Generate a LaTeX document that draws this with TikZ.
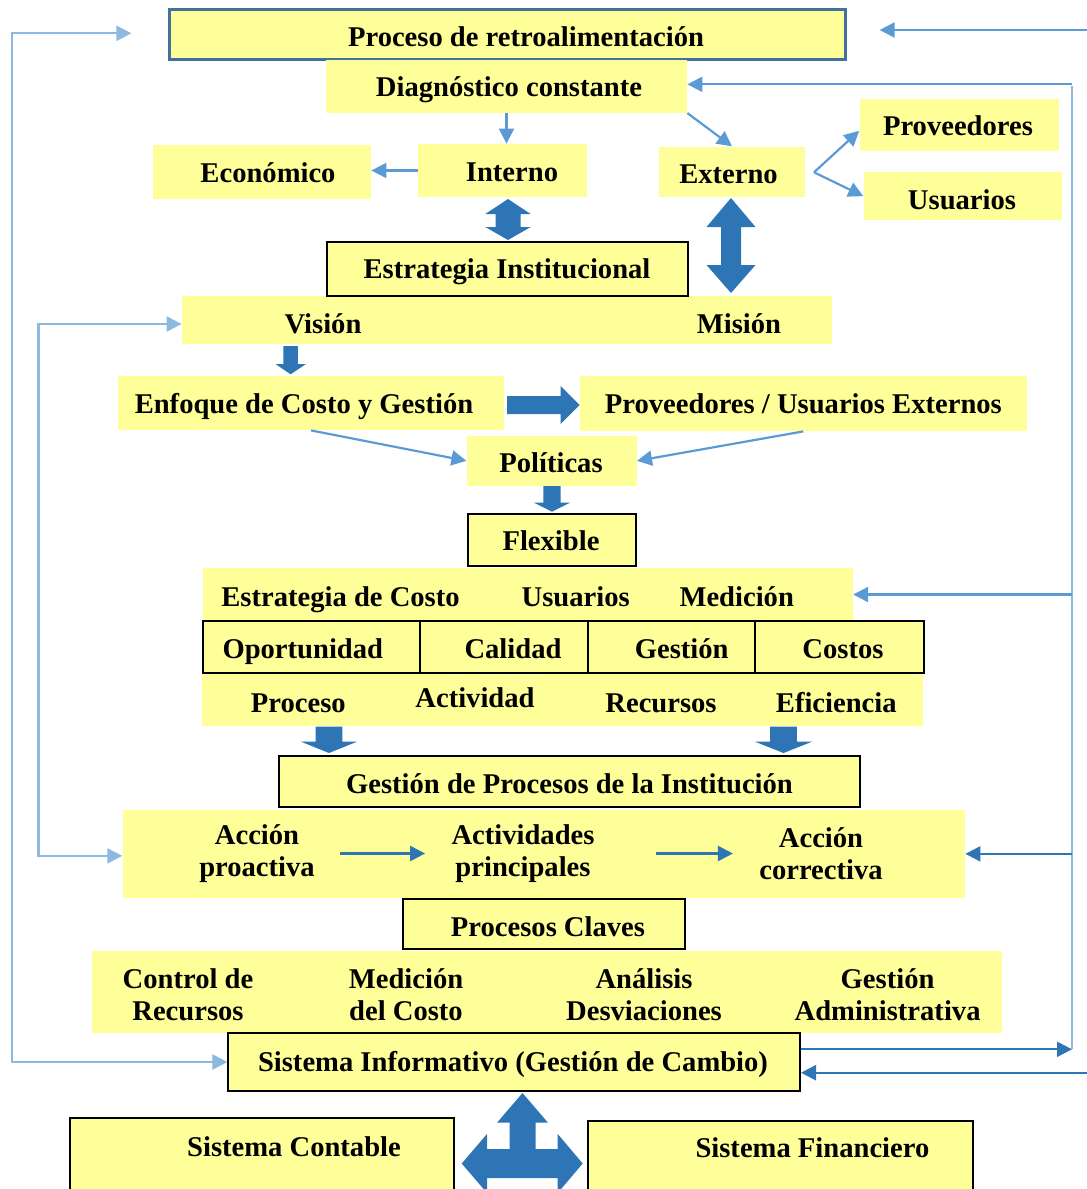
\documentclass[tikz,border=0pt]{standalone}
\usepackage{fontspec}
\setmainfont{Liberation Serif}
\usetikzlibrary{arrows.meta,fit}

\definecolor{boxyellow}{HTML}{FFFF99}
\definecolor{linkblue}{HTML}{5B9BD5}
\definecolor{deepblue}{HTML}{2E75B6}
\definecolor{paleblue}{HTML}{8DB8E2}
\definecolor{framegray}{HTML}{41719C}

\newcommand{\mapfont}{\bfseries\fontsize{14.3}{16}\selectfont}

\begin{document}
\begin{tikzpicture}[x=0.5pt,y=-0.5pt,every node/.style={font=\mapfont},
    >={Triangle[length=7.5pt,width=7.5pt]},
    fillbox/.style={fill=boxyellow,inner sep=0pt},
    framebox/.style={fillbox,draw=black,line width=1pt},
    txt/.style={inner sep=0pt,text height=9.6pt,text depth=0pt},
    txttwo/.style={inner sep=0pt,align=center},
    link/.style={draw=linkblue,line width=1.1pt},
    linkdeep/.style={draw=deepblue,line width=1.1pt},
    fbline/.style={draw=paleblue,line width=1.1pt},
    blk/.style={fill=deepblue}]
    \useasboundingbox (0,0) rectangle (1087,1189);
    % top part
    \node[fillbox,draw=framegray,line width=1.5pt,fit={(169,9.5) (845,59)}] (retro) {};
    \node[txt] (retrotxt) at (526,37) {Proceso de retroalimentación};
    \node[fillbox,fit={(326,60) (687,112.7)}] (diag) {};
    \node[txt] (diagtxt) at (509,87) {Diagnóstico constante};
    \node[fillbox,fit={(153,145) (371,199)}] (econ) {};
    \node[txt] (econtxt) at (268,173) {Económico};
    \node[fillbox,fit={(418,144) (587,197)}] (interno) {};
    \node[txt] (internotxt) at (512,172) {Interno};
    \node[fillbox,fit={(659,146.7) (805,197.3)}] (externo) {};
    \node[txt] (externotxt) at (728.5,174) {Externo};
    \node[fillbox,fit={(859.6,99) (1059,150.7)}] (prov) {};
    \node[txt] (provtxt) at (958,126) {Proveedores};
    \node[fillbox,fit={(863.7,172.3) (1061.8,220)}] (usu) {};
    \node[txt] (usutxt) at (962,200) {Usuarios};
    % strategy
    \node[fillbox,fit={(182,296) (832,344)}] (vm) {};
    \node[framebox,fit={(326.7,241.7) (687.8,296)}] (estinst) {};
    \node[txt] (estinsttxt) at (507,269) {Estrategia Institucional};
    \node[txt] (vision) at (323,324) {Visión};
    \node[txt] (mision) at (739,324) {Misión};
    \node[fillbox,fit={(118,376) (504,430)}] (enfoque) {};
    \node[txt] (enfoquetxt) at (304,404) {Enfoque de Costo y Gestión};
    \node[fillbox,fit={(579.6,375.7) (1027,431)}] (pue) {};
    \node[txt] (puetxt) at (803.4,404) {Proveedores / Usuarios Externos};
    \node[fillbox,fit={(466.8,436) (636.6,485.7)}] (pol) {};
    \node[txt] (poltxt) at (551,463) {Políticas};
    \node[framebox,fit={(468.4,514) (635.6,566)}] (flex) {};
    \node[txt] (flextxt) at (551,541) {Flexible};
    % grid of criteria
    \node[fillbox,fit={(203.3,568) (852.8,621)}] (costrow) {};
    \node[fillbox,fit={(201.8,672.7) (922.6,725.7)}] (procrow) {};
    \node[txt] (estcosto) at (340.5,596.5) {Estrategia de Costo};
    \node[txt] (usuarios) at (575.7,596.5) {Usuarios};
    \node[txt] (medicion) at (736.7,596.5) {Medición};
    \node[framebox,fit={(203.3,621) (419.5,672.7)}] (oport) {};
    \node[framebox,fit={(419.5,621) (587.7,672.7)}] (calidad) {};
    \node[framebox,fit={(587.7,621) (755.4,672.7)}] (gestion) {};
    \node[framebox,fit={(755.4,621) (924,672.7)}] (costos) {};
    \node[txt] (oporttxt) at (302.8,649) {Oportunidad};
    \node[txt] (calidadtxt) at (513,649) {Calidad};
    \node[txt] (gestiontxt) at (681.7,649) {Gestión};
    \node[txt] (costostxt) at (843,649) {Costos};
    \node[txt] (proceso) at (298.3,702.7) {Proceso};
    \node[txt] (actividad) at (475,698.3) {Actividad};
    \node[txt] (recursos) at (661,703.3) {Recursos};
    \node[txt] (eficiencia) at (836.3,702.7) {Eficiencia};
    % process management
    \node[framebox,fit={(279.4,756) (860,807)}] (gproc) {};
    \node[txt] (gproctxt) at (569.5,783.5) {Gestión de Procesos de la Institución};
    \node[fillbox,fit={(122.7,810) (965,897.7)}] (acc) {};
    \node[txttwo] (proact) at (257,853.5) {Acción\\proactiva};
    \node[txttwo] (activ) at (523,853.5) {Actividades\\principales};
    \node[txttwo] (correct) at (821,853.5) {Acción\\correctiva};
    \node[framebox,fit={(403.2,899) (685,949)}] (claves) {};
    \node[txt] (clavestxt) at (548,927) {Procesos Claves};
    \node[fillbox,fit={(92.1,951) (1002.3,1033)}] (keyrow) {};
    \node[txttwo] (control) at (188,994.5) {Control de\\Recursos};
    \node[txttwo] (medcosto) at (406,994.5) {Medición\\del Costo};
    \node[txttwo] (analisis) at (644,994.5) {Análisis\\Desviaciones};
    \node[txttwo] (gadmin) at (887.6,994.5) {Gestión\\Administrativa};
    % information systems
    \node[framebox,fit={(228.4,1033.3) (800,1090.7)}] (si) {};
    \node[txt] (sitxt) at (513,1061.5) {Sistema Informativo (Gestión de Cambio)};
    \node[framebox,fit={(69.5,1118.3) (454.3,1200)}] (contable) {};
    \node[txt] (contabletxt) at (294,1146.7) {Sistema Contable};
    \node[framebox,fit={(587.5,1121) (972.6,1200)}] (finan) {};
    \node[txt] (finantxt) at (812.4,1148.3) {Sistema Financiero};
    % block arrows
    \fill[blk] (508,199) -- (530.7,214) -- (520.5,214) -- (520.5,227) -- (530.7,227) -- (508,240)
        -- (485.3,227) -- (495.5,227) -- (495.5,214) -- (485.3,214) -- cycle;
    \fill[blk] (731,198) -- (755.5,227) -- (741,227) -- (741,265) -- (755.5,265) -- (731,293)
        -- (706.5,265) -- (721,265) -- (721,227) -- (706.5,227) -- cycle;
    \fill[blk] (283.3,346) -- (297.9,346) -- (297.9,364) -- (306,364) -- (290.6,374.3)
        -- (275.5,364) -- (283.3,364) -- cycle;
    \fill[blk] (507,396) -- (560.6,396) -- (560.6,386) -- (579.6,405) -- (560.6,424)
        -- (560.6,414) -- (507,414) -- cycle;
    \fill[blk] (543.4,486) -- (560.6,486) -- (560.6,502.7) -- (570,502.7) -- (552,511.7)
        -- (534,502.7) -- (543.4,502.7) -- cycle;
    \fill[blk] (315.7,726.7) -- (342.4,726.7) -- (342.4,741.7) -- (357,741.7) -- (329,753)
        -- (301,741.7) -- (315.7,741.7) -- cycle;
    \fill[blk] (770.2,726.7) -- (796.9,726.7) -- (796.9,741.7) -- (812,741.7) -- (783.5,753)
        -- (755,741.7) -- (770.2,741.7) -- cycle;
    \fill[blk] (522.5,1093) -- (548,1122.7) -- (535.5,1122.7) -- (535.5,1149) -- (557.7,1149)
        -- (557.7,1134) -- (582.7,1163.5) -- (557.7,1193) -- (557.7,1178) -- (487,1178)
        -- (487,1193) -- (461.7,1163.5) -- (487,1134) -- (487,1149) -- (509.5,1149)
        -- (509.5,1122.7) -- (497,1122.7) -- cycle;
    % thin connectors
    \draw[link,->] (diag.south) -- (diag.south |- interno.north);
    \draw[link,->] (diag.south east) -- (externo.north);
    \draw[link,->] (interno.west) -- (interno.west -| econ.east);
    \coordinate (split) at (814,172.3);
    \draw[link,->] (split) -- ([yshift=-3pt]prov.west);
    \draw[link,->] (split) -- (usu.west);
    \draw[link,->] (enfoque.south) -- (pol.west);
    \draw[link,->] (pue.south) -- (pol.east);
    \draw[linkdeep,->,shorten <=12.5pt,shorten >=13pt] (proact) -- (activ);
    \draw[linkdeep,->,shorten <=30.5pt,shorten >=13pt] (activ) -- (correct);
    % feedback loops, left
    \coordinate (fbtop) at (131.4,33.3);
    \coordinate (lout) at (12,33.3);
    \draw[fbline,<->] (fbtop) -- (lout) |- (si.west);
    \coordinate (lin) at (38.5,600);
    \draw[fbline,<->] ([yshift=-2pt]vm.west) -| (lin) |- ([yshift=-1pt]acc.west);
    % feedback loops, right
    \coordinate (rtop) at (1087,30);
    \coordinate (rtopend) at (879.6,30);
    \draw[link,->] (rtop) -- (rtopend);
    \coordinate (rin) at (1072,1049.3);
    \draw[linkdeep,->] (si.east |- rin) -- (rin);
    \draw[fbline] (rin) -- (rin |- diag.east);
    \draw[link,->] ([yshift=1pt]rin |- diag.east) -- ([yshift=1pt]diag.east);
    \draw[link,->] (rin |- costrow.east) -- (costrow.east);
    \draw[linkdeep,->] (rin |- acc.east) -- (acc.east);
    \coordinate (rbot) at (1087,1072.7);
    \draw[linkdeep,->] (rbot) -- (rbot -| si.east);
\end{tikzpicture}
\end{document}
